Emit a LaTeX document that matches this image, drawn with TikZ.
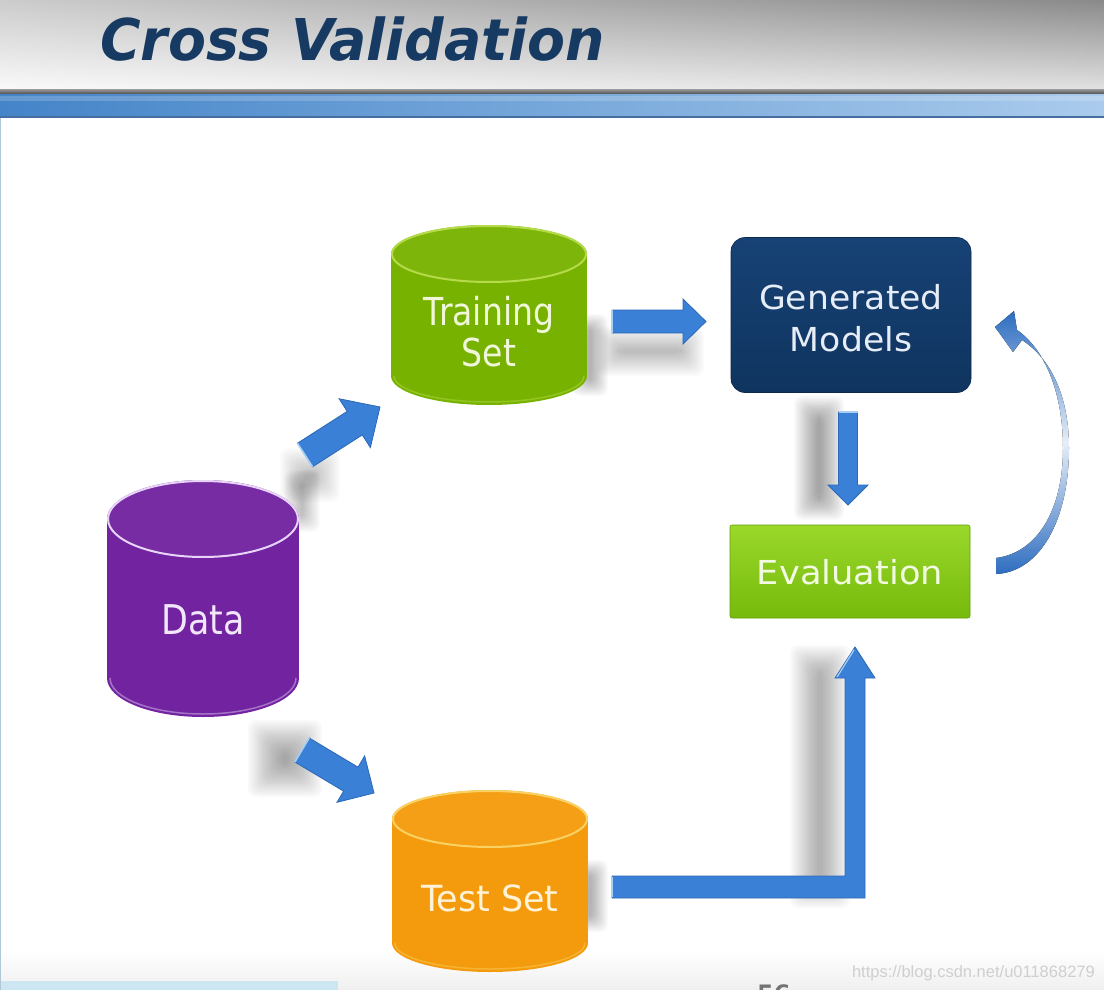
\documentclass[tikz,border=0pt]{standalone}
\usepackage{fontspec}
\setmainfont{DejaVu Sans}
\newfontfamily\titlefont{DejaVu Sans}
\newfontfamily\wmfont{Liberation Sans}
\usetikzlibrary{calc,shadings}
\definecolor{arrowblue}{HTML}{3A80D6}
\definecolor{arrowedge}{HTML}{2D68B4}
\definecolor{arrowhi}{HTML}{A8D0F6}
\definecolor{curveblue}{HTML}{2E6DC0}
\definecolor{titleblue}{HTML}{173A63}
\definecolor{barleft}{HTML}{4484C8}
\definecolor{barright}{HTML}{AACBEC}
\definecolor{barline}{HTML}{466EA0}
\definecolor{stripblue}{HTML}{CCE6F2}
\definecolor{edgeline}{HTML}{B0C8D8}
\definecolor{purp}{HTML}{7123A0}
\definecolor{purprim}{HTML}{E8D4F8}
\definecolor{grn}{HTML}{78B200}
\definecolor{grnrim}{HTML}{B5DA4A}
\definecolor{org}{HTML}{F39B0C}
\definecolor{orgrim}{HTML}{FAD264}
\definecolor{navytop}{HTML}{174275}
\definecolor{navybot}{HTML}{0F345F}
\definecolor{limetop}{HTML}{9AD82A}
\definecolor{limebot}{HTML}{76BA0C}
\definecolor{txpurp}{HTML}{F2E6FA}
\definecolor{txgrn}{HTML}{F0F6D8}
\definecolor{txorg}{HTML}{FFF2D6}
\definecolor{txnavy}{HTML}{E6EDF7}
\definecolor{txlime}{HTML}{F2FAE2}
% label: size, xscale, baselineskip, text
\newcommand\lbl[4]{\scalebox{#2}[1]{\fontsize{#1}{#3}\selectfont\begin{tabular}{@{}c@{}}#4\end{tabular}}}
% block arrow: start, end, shaft half width, head half width, head length
\newcommand\barrow[5]{%
  \path (#1) coordinate (ba-s) (#2) coordinate (ba-e);
  \path ($(ba-e)!#5!(ba-s)$) coordinate (ba-h);
  \filldraw[barrowstyle] ($(ba-s)!#3!90:(ba-e)$) -- ($(ba-h)!#3!90:(ba-e)$) --
    ($(ba-h)!#4!90:(ba-e)$) -- (ba-e) -- ($(ba-h)!#4!-90:(ba-e)$) --
    ($(ba-h)!#3!-90:(ba-e)$) -- ($(ba-s)!#3!-90:(ba-e)$) -- cycle;
  \draw[arrowhi, line width=1.6pt] ($(ba-s)!#3!90:(ba-e)$) -- ($(ba-s)!#3!-90:(ba-e)$);
}
% cylinder: name, cx, rx, ytop(center of top ellipse), ybottom(edge), ry, fill, rim, label
\newcommand\dbcyl[9]{%
  \fill[#7] ({#2-#3},#4) rectangle ({#2+#3},{#5-#6});
  \fill[#7] (#2,{#5-#6}) ellipse [x radius=#3, y radius=#6];
  \draw[#8, line width=1.5pt, opacity=.45] ({#2-#3+3},{#5-#6}) arc[start angle=180, end angle=0, x radius={#3-3}, y radius={#6-3}];
  \fill[#7!96!white] (#2,#4) ellipse [x radius=#3, y radius=#6];
  \draw[#8, line width=2pt] (#2,#4) ellipse [x radius={#3-1}, y radius={#6-1}];
  \node[cyltext, minimum width={2*#3}, minimum height={#5-#4}] (#1) at (#2,{(#4+#5)/2+8}) {#9};
}
% soft shadow: x1 y1 x2 y2 opacity-per-layer inset-step
\newcommand\softrect[6]{\foreach \k in {0,...,15}{\fill[black, opacity=#5, rounded corners=8pt] ({#1+\k*#6},{#2+\k*#6}) rectangle ({#3-\k*#6},{#4-\k*#6});}}
\begin{document}
\begin{tikzpicture}[x=1pt,y=-1pt,
  barrowstyle/.style={fill=arrowblue, draw=arrowedge, line width=0.8pt, line join=miter},
  cyltext/.style={inner sep=0pt, align=center},
  boxtext/.style={inner sep=0pt, align=center}]
\useasboundingbox (0,0) rectangle (1104,990);
\fill[white] (0,0) rectangle (1104,990);
% header
\shade[upper left=black!20!white, upper right=black!46!white, lower left=black!2!white, lower right=black!11!white] (0,0) rectangle (1104,91);
\shade[top color=black!45!white, bottom color=black!75!white] (0,90) rectangle (1104,95);
\shade[left color=barleft, right color=barright] (0,95) rectangle (1104,117);
\fill[white, opacity=.18] (0,96) rectangle (1104,101);
\draw[barline, line width=1.2pt] (0,117) -- (1104,117);
\node[anchor=base west, text=titleblue, inner sep=0pt, font=\titlefont\bfseries\itshape\fontsize{57.6}{60}\selectfont] (title) at (100,61) {\scalebox{0.96}[1]{Cross Validation}};
% footer
\shade[top color=white, bottom color=black!6!white] (0,950) rectangle (1104,990);
\fill[stripblue] (0,981) rectangle (338,990);
\draw[edgeline, line width=1.2pt] (0.6,118) -- (0.6,990);
\node[anchor=north west, inner sep=0pt, text=black!55, font=\fontsize{24}{26}\selectfont\bfseries] (pagenum) at (757,985) {56};
\node[anchor=base east, inner sep=0pt, text=black!19, font=\wmfont\fontsize{16.5}{18}\selectfont] (wm) at (1095,977) {https://blog.csdn.net/u011868279};
% soft shadows
\softrect{794}{396}{844}{520}{.022}{1.5}
\softrect{790}{645}{850}{908}{.02}{1.8}
\softrect{596}{326}{704}{376}{.016}{1.5}
\softrect{280}{448}{340}{502}{.016}{1.7}
\softrect{248}{720}{322}{797}{.022}{2.2}
\softrect{284}{470}{320}{532}{.014}{1.1}
\softrect{572}{314}{608}{396}{.02}{1.1}
\softrect{572}{860}{608}{932}{.02}{1.1}
% cylinders
\dbcyl{data}{203}{96}{519}{717}{39}{purp}{purprim}{\color{txpurp}\lbl{41}{0.85}{44}{Data}}
\dbcyl{train}{489}{98}{254}{405}{29}{grn}{grnrim}{\color{txgrn}\lbl{38.5}{0.86}{40}{Training\\Set}}
\dbcyl{test}{490}{98}{819}{972}{29}{org}{orgrim}{\color{txorg}\lbl{36}{0.97}{38}{Test Set}}
% boxes
\node[minimum width=240, minimum height=155, rounded corners=14pt, top color=navytop, bottom color=navybot, draw=navybot!80!black, line width=0.6pt] (gen) at (851,315) {};
\node[boxtext, text=txnavy] (gen-text) at ($(gen.center)+(0,7)$) {\lbl{33}{1.05}{42}{Generated\\Models}};
\node[minimum width=240, minimum height=93, rounded corners=2pt, top color=limetop, bottom color=limebot, draw=limebot!85!black, line width=0.6pt] (eval) at (850,571.5) {};
\node[boxtext, text=txlime] (eval-text) at ($(eval.center)+(0,6)$) {\lbl{33}{1.07}{36}{Evaluation}};
% arrows
\coordinate (d2t-s) at (305,455); \coordinate (d2t-e) at (380,407);
\coordinate (d2x-s) at (302,750); \coordinate (d2x-e) at (374,793);
\coordinate (t2g-s) at (612,321.5); \coordinate (t2g-e) at (706,321.5);
\coordinate (g2e-s) at (848,412); \coordinate (g2e-e) at (848,505);
\barrow{d2t-s}{d2t-e}{14pt}{29pt}{30pt}
\barrow{d2x-s}{d2x-e}{14pt}{27pt}{27pt}
\barrow{t2g-s}{t2g-e}{11.5pt}{22.5pt}{23pt}
\barrow{g2e-s}{g2e-e}{9.5pt}{20pt}{20pt}
% test -> evaluation (L-shaped)
\coordinate (x2e-s) at (612,887); \coordinate (x2e-c) at (855,887); \coordinate (x2e-e) at (855,647);
\filldraw[barrowstyle] ($(x2e-s)+(0,-11)$) -- ($(x2e-c)+(-10,-11)$) -- ($(x2e-e)+(-10,31)$) -- ($(x2e-e)+(-20,31)$) -- (x2e-e) -- ($(x2e-e)+(20,31)$) -- ($(x2e-e)+(10,31)$) -- ($(x2e-c)+(10,11)$) -- ($(x2e-s)+(0,11)$) -- cycle;
\draw[arrowhi, line width=1.6pt] ($(x2e-s)+(0,-10)$) -- ($(x2e-s)+(0,10)$);
\draw[arrowhi, line width=1.2pt] ($(x2e-e)+(-18,30)$) -- ($(x2e-e)+(-1,3)$);
% evaluation -> generated models (curved)
\coordinate (e2g-s) at (996,566); \coordinate (e2g-e) at (995,327);
\fill[top color=curveblue, bottom color=curveblue, middle color=curveblue!12!white]
  ($(e2g-s)+(0,8)$) .. controls (1040,572) and (1069,520) .. (1069,448)
  .. controls (1069,395) and (1050,358) .. (1022,340)
  -- (1013,352) -- (e2g-e) -- (1014,311) -- (1017,330)
  .. controls (1046,350) and (1063,395) .. (1063,448)
  .. controls (1063,512) and (1036,553) .. ($(e2g-s)+(0,-8)$) -- cycle;
\end{tikzpicture}
\end{document}
